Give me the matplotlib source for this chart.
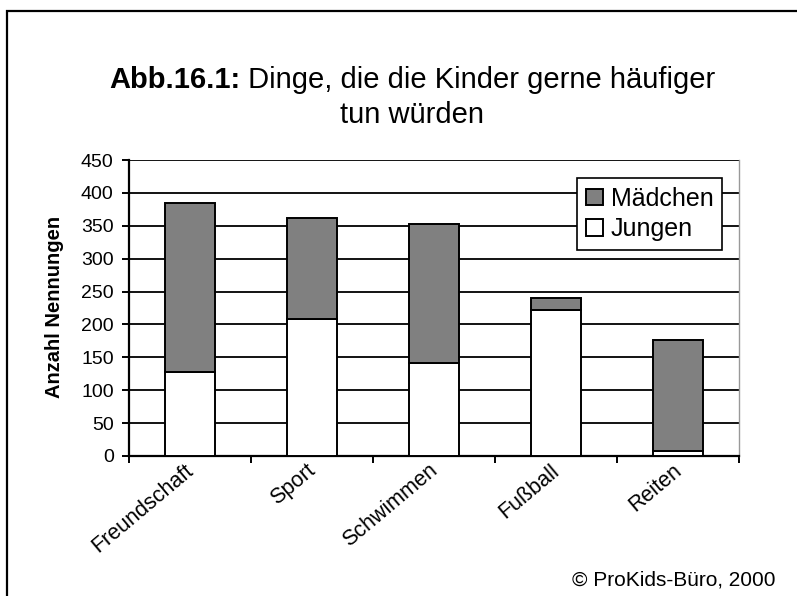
import matplotlib
matplotlib.use("Agg")
import matplotlib.pyplot as plt
from matplotlib.patches import Rectangle
import numpy as np

plt.rcParams['font.family'] = ['Liberation Sans', 'DejaVu Sans']

categories = ["Freundschaft", "Sport", "Schwimmen", "Fußball", "Reiten"]
jungen = [127, 209, 142, 222, 8]
maedchen = [257, 153, 211, 18, 168]
y_ticks = [0, 50, 100, 150, 200, 250, 300, 350, 400, 450]

W, H = 797, 596
fig = plt.figure(figsize=(W / 100, H / 100), dpi=100)
fig.patch.set_facecolor('white')

# Outer frame of the figure
fig.patches.append(Rectangle((7 / W, -0.05), 1.2, 1 - 11 / H + 0.05,
                             transform=fig.transFigure, fill=False,
                             edgecolor='black', linewidth=1.6, zorder=0))

ax = fig.add_axes([129 / W, 1 - 456 / H, (739 - 129) / W, (456 - 160) / H])
x = np.arange(len(categories))
bw = 0.41
ax.bar(x, jungen, width=bw, color='white', edgecolor='black', linewidth=1.4,
       label='Jungen', zorder=3)
ax.bar(x, maedchen, width=bw, bottom=jungen, color='#808080', edgecolor='black',
       linewidth=1.4, label='Mädchen', zorder=3)

ax.set_xlim(-0.5, len(categories) - 0.5)
ax.set_ylim(0, 450)
ax.set_yticks(y_ticks)
ax.set_yticklabels([str(v) for v in y_ticks], fontsize=14)
ax.yaxis.grid(True, color='black', linewidth=1.3, zorder=0)
ax.set_axisbelow(True)

ax.set_xticks(np.arange(-0.5, len(categories), 1.0))
ax.set_xticklabels([])
ax.tick_params(axis='both', direction='out', length=5, width=1.4, color='black')
ax.tick_params(axis='y', pad=6)

for i, c in enumerate(categories):
    ax.annotate(c, xy=(i, 0), xycoords=('data', 'axes fraction'),
                xytext=(-4, -3), textcoords='offset points',
                rotation=40, ha='right', va='top', rotation_mode='anchor',
                fontsize=15.5)

ax.spines['top'].set_visible(False)
ax.spines['right'].set_color('#999999')
ax.spines['right'].set_linewidth(1.0)
ax.spines['left'].set_linewidth(1.6)
ax.spines['bottom'].set_linewidth(1.6)

fig.text(55 / W, 1 - 307 / H, 'Anzahl Nennungen', fontsize=14.5, fontweight='bold',
         rotation=90, ha='center', va='center')

handles, labels = ax.get_legend_handles_labels()
leg = ax.legend(handles[::-1], labels[::-1], loc='upper right',
                bbox_to_anchor=((722 - 129) / (739 - 129), (456 - 178) / (456 - 160)),
                fontsize=18, frameon=True, fancybox=False, edgecolor='black',
                framealpha=1, handlelength=0.7, handleheight=0.65,
                handletextpad=0.3, borderpad=0.35, labelspacing=0.25,
                borderaxespad=0)
leg.get_frame().set_linewidth(1.2)

# Title: bold prefix followed by regular text, centred as one line
cx = 412 / W
t1 = fig.text(0, 1 - 88 / H, "Abb.16.1:", fontsize=21, fontweight='bold',
              ha='left', va='baseline')
t2 = fig.text(0, 1 - 88 / H, " Dinge, die die Kinder gerne häufiger", fontsize=21,
              ha='left', va='baseline')
fig.text(cx, 1 - 123 / H, "tun würden", fontsize=21, ha='center', va='baseline')
fig.canvas.draw()
r = fig.canvas.get_renderer()
w1 = t1.get_window_extent(r).width / W
w2 = t2.get_window_extent(r).width / W
x0 = cx - (w1 + w2) / 2
t1.set_x(x0)
t2.set_x(x0 + w1)

fig.text(776 / W, 1 - 586 / H, "© ProKids-Büro, 2000", fontsize=15,
         ha='right', va='baseline')

fig.savefig("out.png", dpi=100)
